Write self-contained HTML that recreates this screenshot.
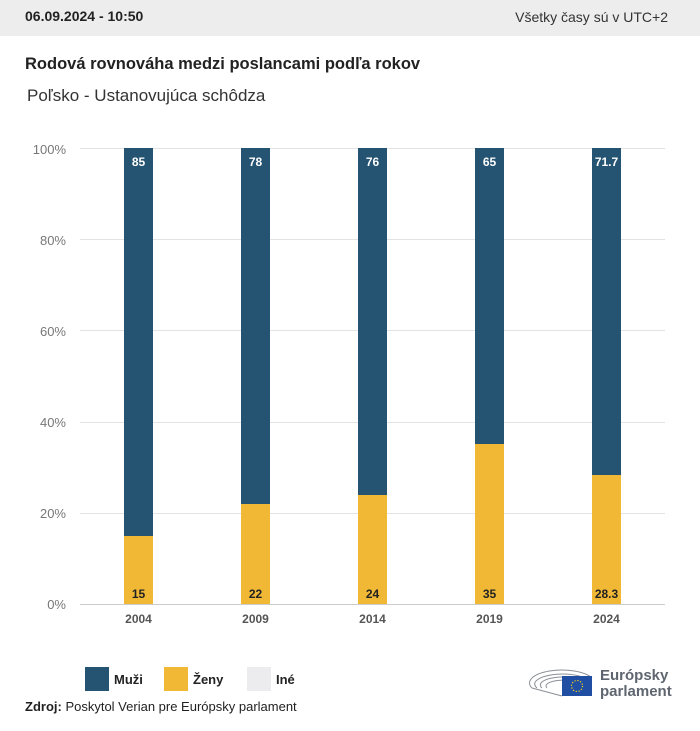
<!DOCTYPE html>
<html><head><meta charset="utf-8"><style>
body{margin:0;width:700px;height:731px;background:#fff;font-family:"Liberation Sans",sans-serif;overflow:hidden;position:relative}
.hdr{position:absolute;left:0;top:0;width:700px;height:36px;background:#ededed}
</style></head><body>
<div class="hdr"></div>
<div style="position:absolute;left:25px;top:8px;font-size:14px;font-weight:bold;color:#222">06.09.2024 - 10:50</div>
<div style="position:absolute;right:32px;top:9px;font-size:14px;color:#333">Všetky časy sú v UTC+2</div>
<div style="position:absolute;left:25px;top:55px;font-size:16.5px;font-weight:bold;color:#222">Rodová rovnováha medzi poslancami podľa rokov</div>
<div style="position:absolute;left:27px;top:86px;font-size:17px;color:#333">Poľsko - Ustanovujúca schôdza</div>
<svg style="position:absolute;left:0;top:0" width="700" height="731" font-family="Liberation Sans,sans-serif">
<g stroke="#e3e3e3" stroke-width="1">
<line x1="80" x2="665" y1="148.5" y2="148.5"/><line x1="80" x2="665" y1="239.5" y2="239.5"/><line x1="80" x2="665" y1="330.5" y2="330.5"/><line x1="80" x2="665" y1="422.5" y2="422.5"/><line x1="80" x2="665" y1="513.5" y2="513.5"/><line x1="80" x2="665" y1="604.5" y2="604.5" stroke="#ccc"/>
</g>
<g font-size="13" fill="#777" text-anchor="end">
<text x="66" y="154">100%</text><text x="66" y="245">80%</text><text x="66" y="336">60%</text><text x="66" y="427">40%</text><text x="66" y="518">20%</text><text x="66" y="609">0%</text>
</g>
<g>
<rect x="124" y="148" width="29" height="388" fill="#255372"/><rect x="124" y="536" width="29" height="68" fill="#f0b835"/>
<rect x="241" y="148" width="29" height="356" fill="#255372"/><rect x="241" y="504" width="29" height="100" fill="#f0b835"/>
<rect x="358" y="148" width="29" height="347" fill="#255372"/><rect x="358" y="495" width="29" height="109" fill="#f0b835"/>
<rect x="475" y="148" width="29" height="296" fill="#255372"/><rect x="475" y="444" width="29" height="160" fill="#f0b835"/>
<rect x="592" y="148" width="29" height="327" fill="#255372"/><rect x="592" y="475" width="29" height="129" fill="#f0b835"/>
</g>
<g font-size="12" font-weight="bold" text-anchor="middle" fill="#fff">
<text x="138.5" y="166">85</text><text x="255.5" y="166">78</text><text x="372.5" y="166">76</text><text x="489.5" y="166">65</text><text x="606.5" y="166">71.7</text>
</g>
<g font-size="12" font-weight="bold" text-anchor="middle" fill="#222">
<text x="138.5" y="598">15</text><text x="255.5" y="598">22</text><text x="372.5" y="598">24</text><text x="489.5" y="598">35</text><text x="606.5" y="598">28.3</text>
</g>
<g font-size="12" font-weight="bold" text-anchor="middle" fill="#555">
<text x="138.5" y="623">2004</text><text x="255.5" y="623">2009</text><text x="372.5" y="623">2014</text><text x="489.5" y="623">2019</text><text x="606.5" y="623">2024</text>
</g>
<rect x="85" y="667" width="24" height="24" fill="#255372"/>
<rect x="164" y="667" width="24" height="24" fill="#f0b835"/>
<rect x="247" y="667" width="24" height="24" fill="#ececee"/>
<g font-size="13" font-weight="bold" fill="#222">
<text x="114" y="684">Muži</text><text x="193" y="684">Ženy</text><text x="276" y="684">Iné</text>
</g>
<text x="25" y="711" font-size="13" fill="#222"><tspan font-weight="bold">Zdroj:</tspan> Poskytol Verian pre Európsky parlament</text>
<g fill="none" stroke="#8a8f96" stroke-width="1">
<path d="M532 688 A30 12 0 0 1 592 678"/><path d="M537 688 A25 9 0 0 1 588 680"/><path d="M542 688 A20 7 0 0 1 584 682"/><path d="M547 688 A15 5 0 0 1 580 684"/>
<path d="M532 688 L562 696"/>
</g>
<rect x="562" y="676" width="30" height="20" fill="#1f4ea3"/>
<circle cx="577" cy="686" r="5.5" fill="none" stroke="#ffd617" stroke-width="1.2" stroke-dasharray="1.2 1.7"/>
<g font-size="15" font-weight="bold" fill="#5f6670">
<text x="600" y="680">Európsky</text><text x="600" y="696">parlament</text>
</g>
</svg>
</body></html>
